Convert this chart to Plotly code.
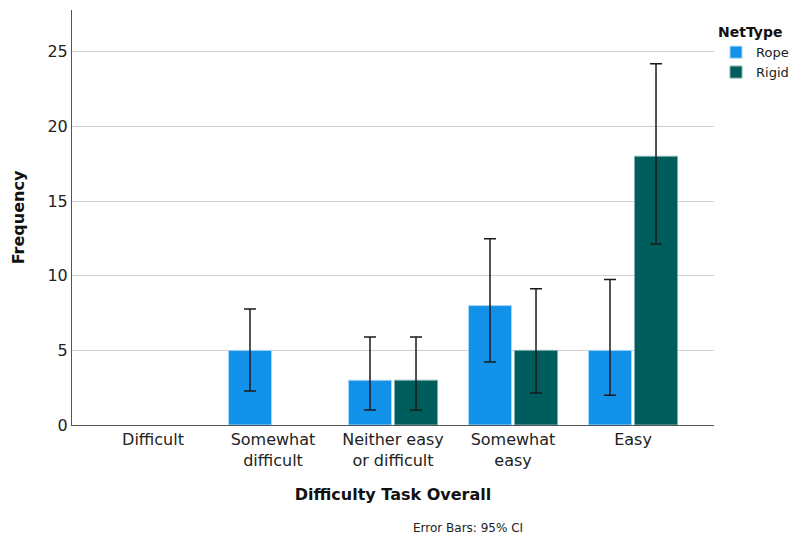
import plotly.graph_objects as go

categories = ["Difficult", "Somewhat<br>difficult", "Neither easy<br>or difficult", "Somewhat<br>easy", "Easy"]
rope = [None, 5, 3, 8, 5]
rigid = [None, None, 3, 5, 18]
rope_hi = [None, 7.77, 5.9, 12.47, 9.75]
rope_lo = [None, 2.28, 1.0, 4.22, 2.0]
rigid_hi = [None, None, 5.9, 9.12, 24.2]
rigid_lo = [None, None, 1.0, 2.14, 12.13]

def plus(v, hi):
    return [None if a is None else h - a for a, h in zip(v, hi)]

def minus(v, lo):
    return [None if a is None else a - l for a, l in zip(v, lo)]

font_family = "DejaVu Sans, sans-serif"
err_style = dict(type="data", symmetric=False, color="#1a1a1a", thickness=1.5, width=6)

fig = go.Figure()
fig.add_trace(go.Bar(
    x=categories, y=rope, name="Rope",
    marker=dict(color="#1192e8", line=dict(color="#a8d4f5", width=1)),
    error_y=dict(array=plus(rope, rope_hi), arrayminus=minus(rope, rope_lo), **err_style),
))
fig.add_trace(go.Bar(
    x=categories, y=rigid, name="Rigid",
    marker=dict(color="#005d5d", line=dict(color="#7fb0b0", width=1)),
    error_y=dict(array=plus(rigid, rigid_hi), arrayminus=minus(rigid, rigid_lo), **err_style),
))

W = 794 - 72  # paper width with r=0
fig.update_layout(
    width=794, height=538,
    margin=dict(l=72, r=0, t=10, b=113),
    paper_bgcolor="white", plot_bgcolor="white",
    barmode="group", bargap=0.233, bargroupgap=0.065,
    font=dict(family=font_family, size=16, color="#222"),
    showlegend=True,
    legend=dict(
        title=dict(text="<b>NetType</b>", font=dict(size=14, color="#111")),
        x=(716 - 72) / W, y=1 - 9 / 415, xanchor="left", yanchor="top",
        font=dict(size=13, color="#222"),
        itemwidth=30, tracegroupgap=0,
        bgcolor="rgba(0,0,0,0)",
    ),
    xaxis=dict(
        type="category", range=[-0.675, 4.675], domain=[0, (714 - 72) / W],
        showline=True, linecolor="#555", linewidth=1,
        ticks="", showgrid=False,
        tickfont=dict(size=16, color="#222"),
        title=dict(text="<b>Difficulty Task Overall</b>", font=dict(size=16, color="#111"), standoff=19),
    ),
    yaxis=dict(
        range=[0, 27.8], tickvals=[0, 5, 10, 15, 20, 25],
        showline=True, linecolor="#555", linewidth=1,
        showgrid=True, gridcolor="#d0d0d0", gridwidth=1,
        zeroline=False, ticks="", ticklen=0,
        tickfont=dict(size=16, color="#222"),
        title=dict(text="<b>Frequency</b>", font=dict(size=16, color="#111"), standoff=18),
    ),
    annotations=[dict(
        text="Error Bars: 95% CI", x=(411 - 72) / W, y=-0.248, xref="paper", yref="paper",
        xanchor="left", yanchor="middle", showarrow=False,
        font=dict(size=12, color="#222"),
    )],
)

fig.write_html("out.html")
